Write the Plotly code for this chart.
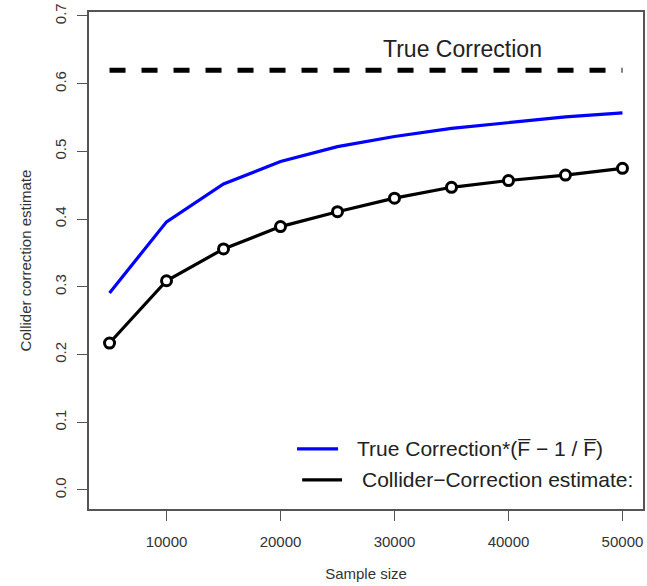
import plotly.graph_objects as go

# ---- data ----
sample_size = [5000, 10000, 15000, 20000, 25000, 30000, 35000, 40000, 45000, 50000]
true_corr_scaled = [0.291, 0.396, 0.452, 0.485, 0.507, 0.522, 0.534, 0.543, 0.551, 0.557]
collider_estimate = [0.217, 0.309, 0.356, 0.389, 0.411, 0.431, 0.447, 0.457, 0.465, 0.475]
true_correction = 0.62
true_line_x = [5000, 50000]

x_ticks = [10000, 20000, 30000, 40000, 50000]
y_ticks = [0.0, 0.1, 0.2, 0.3, 0.4, 0.5, 0.6, 0.7]

legend_labels = ["True Correction*(F\u0305 \u2212 1 / F\u0305)", "Collider\u2212Correction estimate:"]
legend_colors = ["#0000ff", "#000000"]

FONT = "Liberation Sans, Arial, Helvetica, sans-serif"
AXIS_COL = "#555555"

fig = go.Figure()

fig.add_trace(go.Scatter(
    x=true_line_x, y=[true_correction] * len(true_line_x), mode="lines",
    line=dict(color="black", width=5, dash="16px,16px"), showlegend=False, hoverinfo="skip"))

fig.add_trace(go.Scatter(
    x=sample_size, y=true_corr_scaled, mode="lines",
    line=dict(color=legend_colors[0], width=3.2), showlegend=False))

fig.add_trace(go.Scatter(
    x=sample_size, y=collider_estimate, mode="lines+markers",
    line=dict(color="black", width=3.2),
    marker=dict(symbol="circle", size=10, color="white", line=dict(color="black", width=3)),
    showlegend=False))

# "True Correction" label
fig.add_annotation(x=36000, y=0.652, xref="x", yref="y", text="True Correction",
                   showarrow=False, font=dict(family=FONT, size=23, color="#222222"),
                   xanchor="center", yanchor="middle")

# manual legend (no box)
leg_rows = [
    dict(x0=21450, x1=25050, tx=26500, y=0.0606),
    dict(x0=21900, x1=25400, tx=27000, y=0.0148),
]
for row, lab, col in zip(leg_rows, legend_labels, legend_colors):
    fig.add_shape(type="line", xref="x", yref="y", x0=row["x0"], x1=row["x1"],
                  y0=row["y"], y1=row["y"], line=dict(color=col, width=3.2))
    fig.add_annotation(x=row["tx"], y=row["y"], xref="x", yref="y", text=lab,
                       showarrow=False, font=dict(family=FONT, size=21, color="#222222"),
                       xanchor="left", yanchor="middle")

fig.update_layout(
    width=647, height=586,
    margin=dict(l=89, r=2, t=12, b=77),
    paper_bgcolor="white", plot_bgcolor="white",
    font=dict(family=FONT, size=15, color="#333333"),
    showlegend=False,
)

fig.update_xaxes(
    range=[3200, 51800], tickvals=x_ticks, ticktext=[str(v) for v in x_ticks],
    showgrid=False, zeroline=False,
    showline=True, mirror=True, linecolor=AXIS_COL, linewidth=1.5,
    ticks="outside", ticklen=10, tickwidth=1.2, tickcolor=AXIS_COL,
    ticklabelstandoff=8,
    title=dict(text="Sample size", font=dict(family=FONT, size=15, color="#333333"), standoff=20),
)
fig.update_yaxes(
    range=[-0.0281, 0.7059], tickvals=y_ticks, ticktext=[f"{v:.1f}" for v in y_ticks],
    tickangle=-90,
    showgrid=False, zeroline=False,
    showline=True, mirror=True, linecolor=AXIS_COL, linewidth=1.5,
    ticks="outside", ticklen=10, tickwidth=1.2, tickcolor=AXIS_COL,
    ticklabelstandoff=5,
    title=dict(text="Collider correction estimate", font=dict(family=FONT, size=15, color="#333333"), standoff=17),
)

fig.write_html("out.html", config={"displayModeBar": False},
               post_script="document.body.style.margin='0';document.body.style.overflow='hidden';")
